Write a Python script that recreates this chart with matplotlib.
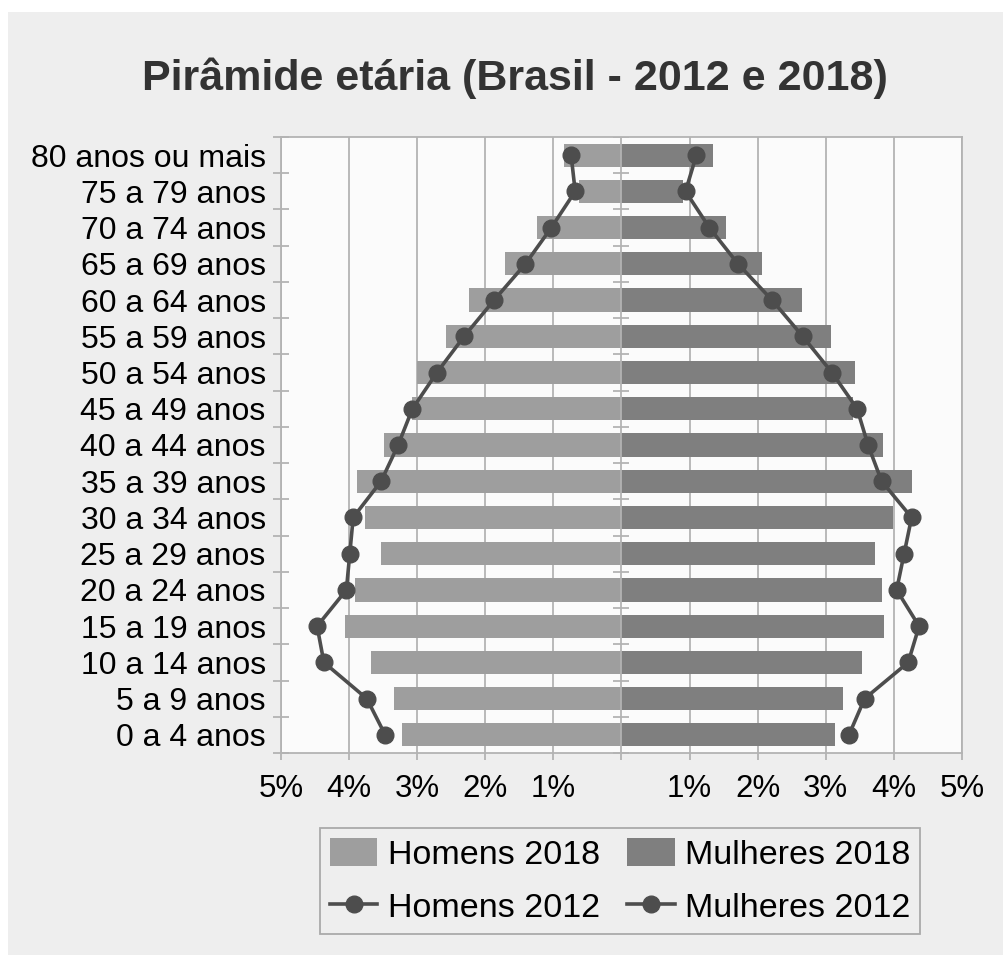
import matplotlib.pyplot as plt
import numpy as np
from matplotlib.patches import Rectangle

plt.rcParams["font.family"] = ["Liberation Sans", "DejaVu Sans"]

# age groups, bottom to top
AGE_GROUPS = [
    "0 a 4 anos", "5 a 9 anos", "10 a 14 anos", "15 a 19 anos", "20 a 24 anos",
    "25 a 29 anos", "30 a 34 anos", "35 a 39 anos", "40 a 44 anos", "45 a 49 anos",
    "50 a 54 anos", "55 a 59 anos", "60 a 64 anos", "65 a 69 anos", "70 a 74 anos",
    "75 a 79 anos", "80 anos ou mais",
]

# share of population (%)
homens_2018 = [3.22, 3.34, 3.68, 4.06, 3.91, 3.53, 3.76, 3.88, 3.49, 3.07,
               3.01, 2.57, 2.24, 1.71, 1.24, 0.63, 0.84]
mulheres_2018 = [3.13, 3.25, 3.53, 3.85, 3.82, 3.72, 3.99, 4.26, 3.84, 3.40,
                 3.43, 3.07, 2.65, 2.07, 1.53, 0.91, 1.35]
homens_2012 = [3.47, 3.74, 4.37, 4.47, 4.04, 3.99, 3.94, 3.53, 3.28, 3.07,
               2.71, 2.31, 1.87, 1.41, 1.03, 0.68, 0.74]
mulheres_2012 = [3.34, 3.57, 4.21, 4.37, 4.04, 4.15, 4.26, 3.82, 3.62, 3.46,
                 3.09, 2.66, 2.21, 1.71, 1.29, 0.94, 1.10]

X_TICKS = [-5, -4, -3, -2, -1, 0, 1, 2, 3, 4, 5]
X_LABELS = ["5%", "4%", "3%", "2%", "1%", "", "1%", "2%", "3%", "4%", "5%"]

BG = "#eeeeee"
GRID = "#b3b3b3"
C_MEN = "#9e9e9e"
C_WOMEN = "#7f7f7f"
C_LINE = "#4d4d4d"

W, H = 1004, 955
fig = plt.figure(figsize=(W / 100, H / 100), dpi=100, facecolor="white")
fig.patches.append(Rectangle((8 / W, 0), 1, 1 - 12 / H, transform=fig.transFigure,
                             facecolor=BG, edgecolor="none", zorder=-10))

ax = fig.add_axes([281 / W, 1 - 753 / H, (962 - 281) / W, (753 - 137) / H])
ax.set_facecolor("#fbfbfb")

y = np.arange(len(AGE_GROUPS))

b_h = ax.barh(y, -np.array(homens_2018), height=0.64, color=C_MEN, zorder=2)
b_m = ax.barh(y, mulheres_2018, height=0.64, color=C_WOMEN, zorder=2)
l_h, = ax.plot(-np.array(homens_2012), y, color=C_LINE, lw=2.6, marker="o", ms=12,
               zorder=4)
l_m, = ax.plot(mulheres_2012, y, color=C_LINE, lw=2.6, marker="o", ms=12,
               zorder=4)

ax.set_xlim(-5, 5)
ax.set_ylim(-0.5, len(AGE_GROUPS) - 0.5)

for v in X_TICKS:
    if v != 0:
        ax.axvline(v, color=GRID, lw=1.3, zorder=1)
ax.axvline(0, color=GRID, lw=1.3, zorder=3)
edges = np.arange(len(AGE_GROUPS) + 1) - 0.5
ax.plot(np.zeros(len(edges)), edges, ls="none", marker="_", ms=12,
        mew=1.3, color=GRID, zorder=3)

ax.set_xticks(X_TICKS)
ax.set_xticklabels(X_LABELS, fontsize=22.5)
ax.tick_params(axis="x", length=5, width=1.3, color=GRID, pad=10)

ax.set_yticks(y)
ax.set_yticklabels(AGE_GROUPS, fontsize=23)
ax.set_yticks(edges, minor=True)
ax.tick_params(axis="y", which="major", length=0, pad=11)
ax.tick_params(axis="y", which="minor", length=12, width=1.3, color=GRID,
               direction="inout")

for s in ax.spines.values():
    s.set_color(GRID)
    s.set_linewidth(1.3)

fig.text(515 / W, 1 - 78 / H, "Pirâmide etária (Brasil - 2012 e 2018)",
         ha="center", va="center", fontsize=31, fontweight="bold", color="#333333")

leg = fig.legend([b_h, l_h, b_m, l_m],
                 ["Homens 2018", "Homens 2012", "Mulheres 2018", "Mulheres 2012"],
                 loc="center", bbox_to_anchor=(620 / W, 1 - 881 / H), ncol=2,
                 fontsize=24.5, frameon=True, fancybox=False, handlelength=1.4,
                 handleheight=0.9, handletextpad=0.3, columnspacing=0.8,
                 labelspacing=0.6, borderpad=0.3)
leg.get_frame().set_edgecolor("#999999")
leg.get_frame().set_facecolor(BG)
leg.get_frame().set_linewidth(1.3)

fig.savefig("out.png", dpi=100, facecolor=fig.get_facecolor())
